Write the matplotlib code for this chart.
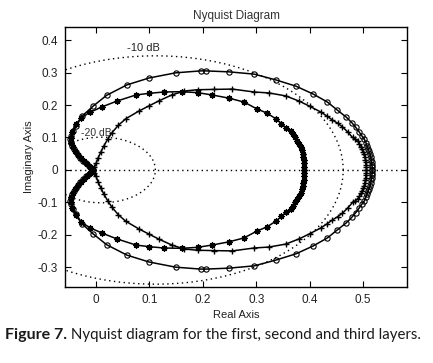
import numpy as np
import matplotlib
matplotlib.use("Agg")
import matplotlib.pyplot as plt

# ---- data (upper branch, positive imaginary part; lower branch is the conjugate) ----
circ_x = [0.517, 0.517, 0.516, 0.516, 0.515, 0.514, 0.513, 0.511, 0.509, 0.507, 0.505, 0.502,
          0.497, 0.492, 0.486, 0.479, 0.468, 0.451, 0.433, 0.406, 0.374, 0.337, 0.296, 0.249,
          0.205, 0.196, 0.149, 0.099, 0.058, 0.020, -0.005, -0.026, -0.037, -0.043, -0.047,
          -0.048, -0.047, -0.045, -0.042, -0.038, -0.034, -0.029, -0.024, -0.019, -0.014,
          -0.010, -0.007, -0.005]
circ_y = [0.000, 0.008, 0.016, 0.024, 0.032, 0.040, 0.048, 0.057, 0.066, 0.075, 0.084, 0.095,
          0.106, 0.118, 0.131, 0.145, 0.163, 0.185, 0.209, 0.234, 0.258, 0.277, 0.295, 0.302,
          0.305, 0.305, 0.299, 0.283, 0.262, 0.230, 0.197, 0.166, 0.135, 0.120, 0.105,
          0.095, 0.085, 0.075, 0.065, 0.055, 0.045, 0.036, 0.028, 0.020, 0.013,
          0.007, 0.003, 0.000]

plus_x = [0.506, 0.506, 0.505, 0.505, 0.504, 0.503, 0.502, 0.500, 0.498, 0.496, 0.493, 0.490,
          0.485, 0.480, 0.471, 0.461, 0.452, 0.442, 0.432, 0.421, 0.400, 0.380, 0.355, 0.324,
          0.296, 0.255, 0.220, 0.190, 0.165, 0.142, 0.118, 0.100, 0.081, 0.056, 0.042, 0.030,
          0.022, 0.015, 0.009, 0.004, 0.000, -0.003, -0.005]
plus_y = [0.000, 0.008, 0.016, 0.024, 0.032, 0.040, 0.048, 0.056, 0.064, 0.072, 0.080, 0.088,
          0.095, 0.100, 0.117, 0.133, 0.144, 0.154, 0.166, 0.178, 0.196, 0.212, 0.228, 0.237,
          0.240, 0.249, 0.248, 0.247, 0.243, 0.231, 0.213, 0.198, 0.182, 0.158, 0.138, 0.115,
          0.095, 0.075, 0.055, 0.037, 0.020, 0.008, 0.000]

ast_x = [0.390, 0.390, 0.389, 0.389, 0.388, 0.387, 0.385, 0.383, 0.380, 0.377, 0.373, 0.369,
         0.364, 0.356, 0.347, 0.337, 0.320, 0.301, 0.277, 0.249, 0.217, 0.190, 0.160, 0.127,
         0.100, 0.075, 0.039, 0.011, -0.012, -0.028, -0.038, -0.045, -0.047, -0.046, -0.043,
         -0.039, -0.034, -0.028, -0.022, -0.016, -0.011, -0.007, -0.005]
ast_y = [0.000, 0.010, 0.020, 0.030, 0.040, 0.050, 0.060, 0.070, 0.080, 0.090, 0.100, 0.110,
         0.120, 0.129, 0.143, 0.157, 0.175, 0.188, 0.209, 0.221, 0.231, 0.238, 0.241, 0.240,
         0.236, 0.231, 0.212, 0.194, 0.177, 0.160, 0.140, 0.118, 0.098, 0.083, 0.070,
         0.058, 0.047, 0.037, 0.027, 0.018, 0.010, 0.004, 0.000]

m_db = [-10, -20]
m_labels = ["-10 dB", "-20 dB"]
x_ticks = [0, 0.1, 0.2, 0.3, 0.4, 0.5]
y_ticks = [-0.3, -0.2, -0.1, 0, 0.1, 0.2, 0.3, 0.4]

FONT = ["Liberation Sans", "DejaVu Sans"]
plt.rcParams['font.family'] = FONT

fig = plt.figure(figsize=(4.33, 3.63), dpi=100)
ax = fig.add_axes([0.1501, 0.2094, 0.790, 0.7162])

# grid: real axis and constant-magnitude circles
ax.axhline(0, color='black', ls=(0, (1, 2.5)), lw=1.0, zorder=1)
theta = np.linspace(0, 2 * np.pi, 400)
for db in m_db:
    M = 10 ** (db / 20.0)
    c = M ** 2 / (1 - M ** 2)
    r = M / (1 - M ** 2)
    ax.plot(c + r * np.cos(theta), r * np.sin(theta), color='black',
            ls=(0, (1, 2.5)), lw=1.0, zorder=1)
ax.text(0.058, 0.375, m_labels[0], fontsize=8, color='#222222', va='center', ha='left')
ax.text(-0.028, 0.114, m_labels[1], fontsize=7.5, color='#333333', va='center', ha='left')

def both(xs, ys):
    xs = np.asarray(xs); ys = np.asarray(ys)
    return np.concatenate([xs[::-1], xs]), np.concatenate([-ys[::-1], ys])

cx, cy = both(circ_x, circ_y)
ax.plot(cx, cy, color='black', lw=1.1, marker='o', ms=3.8, mfc='none', mec='black', mew=0.8, zorder=3)
px, py = both(plus_x, plus_y)
ax.plot(px, py, color='black', lw=1.1, marker='+', ms=5, mew=1.0, zorder=3)
sx, sy = both(ast_x, ast_y)
ax.plot(sx, sy, color='black', lw=1.1, marker=(8, 2, 0), ms=4.5, mew=0.9, zorder=3)

ax.set_xlim(-0.058, 0.582)
ax.set_ylim(-0.36, 0.44)
ax.set_xticks(x_ticks)
ax.set_yticks(y_ticks)
ax.set_xticklabels([f"{v:g}" for v in x_ticks])
ax.set_yticklabels([f"{v:g}" for v in y_ticks])
ax.tick_params(direction='in', length=4, width=0.8, top=True, right=True,
               labelsize=8.5, labelcolor='#222222', pad=5)
for s in ax.spines.values():
    s.set_linewidth(1.0)

ax.set_title("Nyquist Diagram", fontsize=8.5, color='#333333', pad=6)
ax.set_xlabel("Real Axis", fontsize=8, color='#222222', labelpad=3)
ax.set_ylabel("Imaginary Axis", fontsize=8, color='#222222', labelpad=3)

cap1 = fig.text(5 / 433, 1 - 335 / 363, "Figure 7.", fontsize=11.5, fontweight='bold',
                family=["Lato", "DejaVu Sans"], va='center', ha='left', color='#1a1a1a')
cap2 = ax.annotate(" Nyquist diagram for the first, second and third layers.", xy=(1, 0.5),
                   xycoords=cap1, va='center', ha='left', fontsize=11.5,
                   family=["Lato", "DejaVu Sans"], color='#1a1a1a', annotation_clip=False)
fig.canvas.draw()
w = cap2.get_window_extent().width
cap2.set_fontsize(11.5 * 354.0 / w)

fig.savefig("out.png", dpi=100)
